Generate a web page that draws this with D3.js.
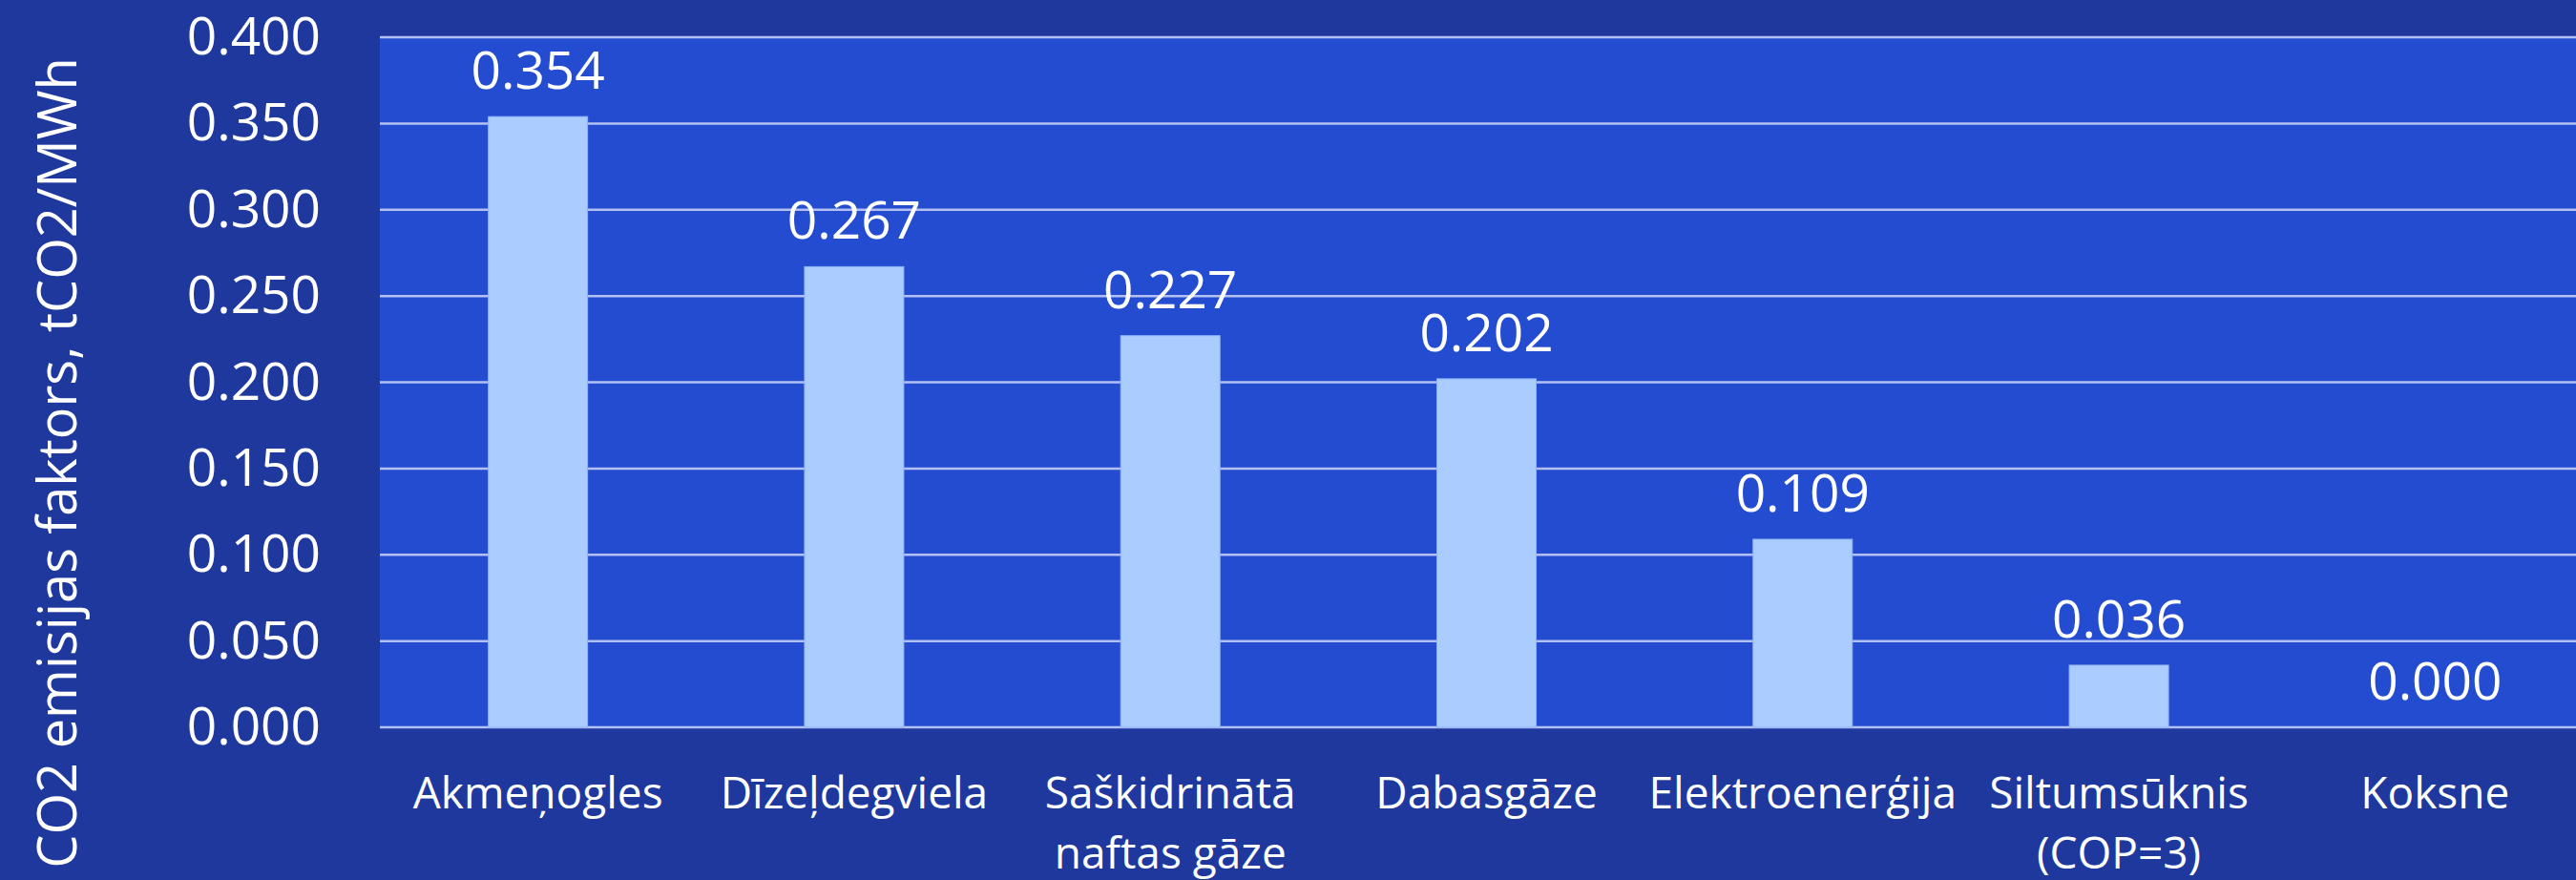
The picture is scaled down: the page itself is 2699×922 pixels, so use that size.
<!DOCTYPE html>
<html>
    <head>
        <meta charset="utf-8">
        <script src="https://d3js.org/d3.v7.min.js"></script>
        <style type="text/css">
            html, body {
                margin: 0;
                padding: 0;
                background-color: #1e389e;
            }
            svg {
                display: block;
            }
            .tick-label, .value-label {
                font-family: 'Open Sans', sans-serif;
                font-size: 55px;
                fill: #ffffff;
            }
            .cat-label {
                font-family: 'Open Sans', sans-serif;
                font-size: 46px;
                fill: #ffffff;
            }
            .y-title {
                font-family: 'Open Sans', sans-serif;
                font-size: 56px;
                fill: #ffffff;
            }
        </style>
    </head>
    <body>
        <div id="chart"></div>

        <script>
            // data
            var categories = ['Akmeņogles', 'Dīzeļdegviela', 'Saškidrinātā naftas gāze', 'Dabasgāze',
                              'Elektroenerģija', 'Siltumsūknis (COP=3)', 'Koksne'];
            // labels split on two lines where the chart wraps them
            var catLines = [['Akmeņogles'], ['Dīzeļdegviela'], ['Saškidrinātā', 'naftas gāze'], ['Dabasgāze'],
                            ['Elektroenerģija'], ['Siltumsūknis', '(COP=3)'], ['Koksne']];
            var values = [0.354, 0.267, 0.227, 0.202, 0.109, 0.036, 0.000];
            var yTicks = [0, 0.05, 0.1, 0.15, 0.2, 0.25, 0.3, 0.35, 0.4];
            var yTitle = 'CO2 emisijas faktors, tCO2/MWh';

            var W = 2699, H = 922;
            // plot area runs a bit past the right edge, like the cropped original
            var plot = {left: 398, right: 2717, top: 39, bottom: 762};

            var svg = d3.select('#chart').append('svg')
                .attr('width', W)
                .attr('height', H);

            svg.append('rect')
                .attr('width', W)
                .attr('height', H)
                .attr('fill', '#1e389e');

            var x = d3.scaleBand()
                .domain(categories)
                .range([plot.left, plot.right])
                .paddingInner(0.686)
                .paddingOuter(0.343);

            var y = d3.scaleLinear()
                .domain([0, 0.4])
                .range([plot.bottom, plot.top]);

            // plot background
            svg.append('rect')
                .attr('x', plot.left)
                .attr('y', plot.top)
                .attr('width', plot.right - plot.left)
                .attr('height', plot.bottom - plot.top)
                .attr('fill', '#234cd0');

            // gridlines
            svg.append('g')
                .selectAll('line')
                .data(yTicks)
                .enter()
                .append('line')
                .attr('x1', plot.left)
                .attr('x2', plot.right)
                .attr('y1', function(d){ return y(d); })
                .attr('y2', function(d){ return y(d); })
                .attr('stroke', '#b3c0f3')
                .attr('stroke-width', 2.5);

            // y axis tick labels
            var yAxis = d3.axisLeft(y)
                .tickValues(yTicks)
                .tickSize(0)
                .tickPadding(62)
                .tickFormat(d3.format('.3f'));

            var gy = svg.append('g')
                .attr('transform', 'translate(' + plot.left + ',0)')
                .call(yAxis);
            gy.select('.domain').remove();
            gy.selectAll('text')
                .attr('class', 'tick-label')
                .attr('font-family', null)
                .attr('font-size', null)
                .attr('fill', null);

            // bars
            svg.append('g')
                .selectAll('rect')
                .data(values)
                .enter()
                .append('rect')
                .attr('x', function(d, i){ return x(categories[i]); })
                .attr('y', function(d){ return y(d); })
                .attr('width', x.bandwidth())
                .attr('height', function(d){ return y(0) - y(d); })
                .attr('fill', '#aaccff')
                .attr('stroke', '#8fb3f5')
                .attr('stroke-width', 1);

            // value labels
            svg.append('g')
                .selectAll('text')
                .data(values)
                .enter()
                .append('text')
                .attr('class', 'value-label')
                .attr('x', function(d, i){ return x(categories[i]) + x.bandwidth() / 2; })
                .attr('y', function(d){ return y(d) - 29; })
                .attr('text-anchor', 'middle')
                .text(function(d){ return d3.format('.3f')(d); });

            // category labels
            var cats = svg.append('g')
                .selectAll('text')
                .data(categories)
                .enter()
                .append('text')
                .attr('class', 'cat-label')
                .attr('text-anchor', 'middle')
                .attr('y', 847);

            cats.each(function(d, i){
                var cx = x(d) + x.bandwidth() / 2;
                d3.select(this).selectAll('tspan')
                    .data(catLines[i])
                    .enter()
                    .append('tspan')
                    .attr('x', cx)
                    .attr('dy', function(t, j){ return j === 0 ? 0 : 63; })
                    .text(function(t){ return t; });
            });

            // y axis title
            svg.append('text')
                .attr('class', 'y-title')
                .attr('transform', 'translate(80,485) rotate(-90)')
                .attr('text-anchor', 'middle')
                .text(yTitle);
        </script>
    </body>
</html>
